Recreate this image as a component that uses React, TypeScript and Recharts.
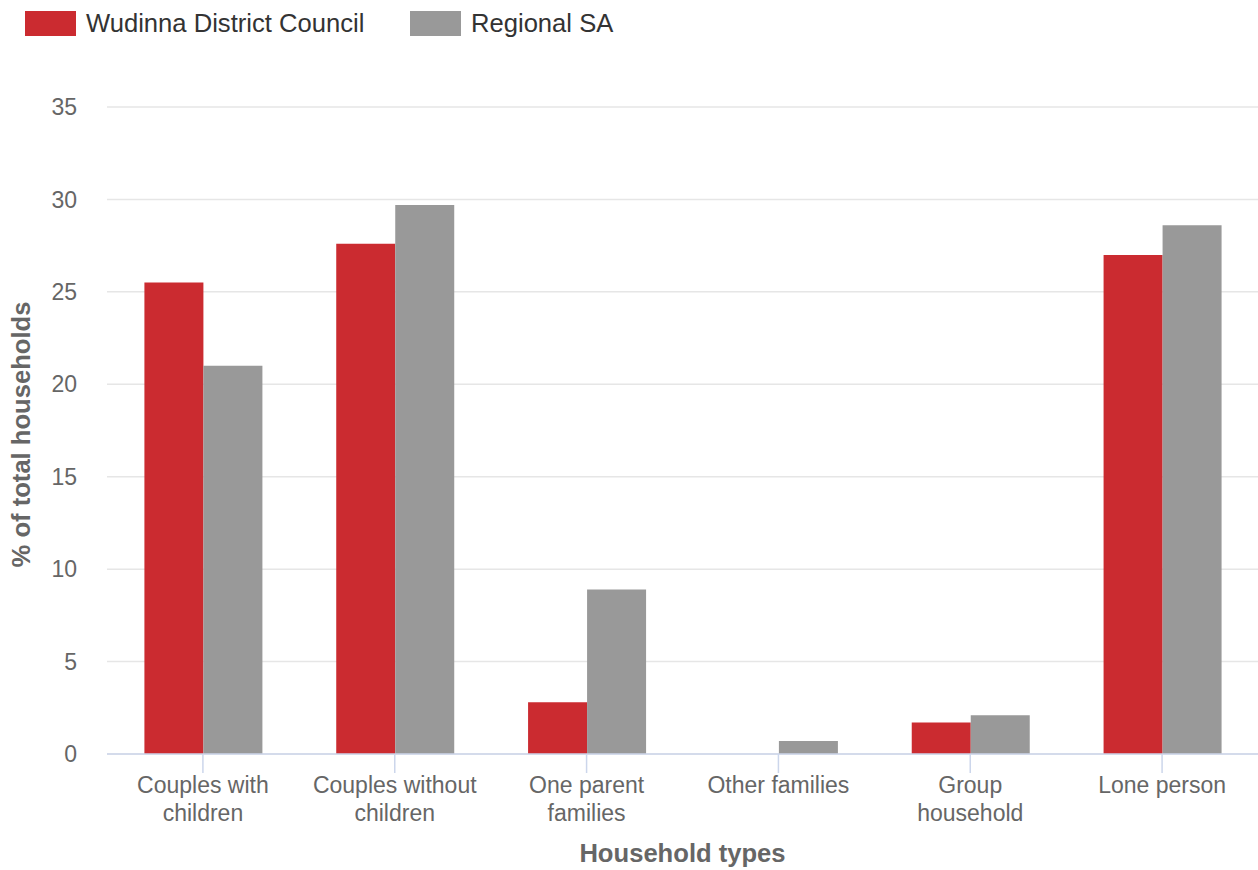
import React from 'react';
import { BarChart, Bar, XAxis, YAxis, CartesianGrid } from 'recharts';

const categories = [
  'Couples with children',
  'Couples without children',
  'One parent families',
  'Other families',
  'Group household',
  'Lone person',
];
const tickLines = [
  ['Couples with', 'children'],
  ['Couples without', 'children'],
  ['One parent', 'families'],
  ['Other families'],
  ['Group', 'household'],
  ['Lone person'],
];
const wudinna = [25.5, 27.6, 2.8, 0, 1.7, 27.0];
const regionalSA = [21.0, 29.7, 8.9, 0.7, 2.1, 28.6];
const yTicks = [0, 5, 10, 15, 20, 25, 30, 35];

const seriesNames = ['Wudinna District Council', 'Regional SA'];
const seriesColors = ['#cb2b30', '#999999'];

const data = categories.map((c, i) => ({
  name: c,
  wudinna: wudinna[i],
  regional: regionalSA[i],
}));

const FONT = '"Liberation Sans", Arial, Helvetica, sans-serif';

const XTick = (props: any) => {
  const { x, y, payload } = props;
  const lines = tickLines[payload.index] || [payload.value];
  return (
    <text x={x} y={y} textAnchor="middle" fill="#666666" fontSize={23} fontFamily={FONT}>
      {lines.map((l: string, i: number) => (
        <tspan key={i} x={x} dy={i === 0 ? 20 : 28}>
          {l}
        </tspan>
      ))}
    </text>
  );
};

const XTitle = (props: any) => {
  const vb = props.viewBox || {};
  const cx = vb.x + vb.width / 2;
  return (
    <text x={cx} y={862} textAnchor="middle" fill="#666666" fontSize={25.6} fontWeight="bold" fontFamily={FONT}>
      Household types
    </text>
  );
};

const YTitle = (props: any) => {
  const vb = props.viewBox || {};
  const cy = vb.y + vb.height / 2 + 4;
  const tx = vb.x + 30;
  return (
    <text
      x={tx}
      y={cy}
      textAnchor="middle"
      fill="#666666"
      fontSize={25.6}
      fontWeight="bold"
      fontFamily={FONT}
      transform={`rotate(-90, ${tx}, ${cy})`}
    >
      % of total households
    </text>
  );
};

export default function App() {
  return (
    <div style={{ position: 'absolute', left: 0, top: 0, width: 1258, height: 870, background: '#fff', fontFamily: FONT }}>
      {seriesNames.map((n, i) => (
        <div key={n}>
          <div
            style={{
              position: 'absolute',
              left: i === 0 ? 25 : 410,
              top: 11,
              width: 51,
              height: 25,
              background: seriesColors[i],
            }}
          />
          <div
            style={{
              position: 'absolute',
              left: i === 0 ? 86 : 471,
              top: 8,
              fontSize: 25.6,
              lineHeight: '31px',
              color: '#333333',
              whiteSpace: 'nowrap',
            }}
          >
            {n}
          </div>
        </div>
      ))}
      <div style={{ position: 'absolute', left: 0, top: 0 }}>
        <BarChart
          width={1258}
          height={870}
          data={data}
          margin={{ top: 107, right: 0, bottom: 0, left: 0 }}
          barCategoryGap="19.5%"
          barGap={0}
        >
          <CartesianGrid vertical={false} stroke="#e6e6e6" strokeWidth={1.5} />
          <XAxis
            dataKey="name"
            height={116}
            interval={0}
            tickSize={19}
            tickMargin={0}
            tick={<XTick />}
            axisLine={{ stroke: '#ccd6eb', strokeWidth: 1.5 }}
            tickLine={{ stroke: '#ccd6eb', strokeWidth: 1.5 }}
            label={<XTitle />}
          />
          <YAxis
            width={107}
            domain={[0, 35]}
            ticks={yTicks}
            interval={0}
            axisLine={false}
            tickLine={false}
            tickSize={0}
            tickMargin={30}
            tick={{ fill: '#666666', fontSize: 23, fontFamily: FONT }}
            label={<YTitle />}
          />
          <Bar dataKey="wudinna" name={seriesNames[0]} fill={seriesColors[0]} isAnimationActive={false} />
          <Bar dataKey="regional" name={seriesNames[1]} fill={seriesColors[1]} isAnimationActive={false} />
        </BarChart>
      </div>
    </div>
  );
}
